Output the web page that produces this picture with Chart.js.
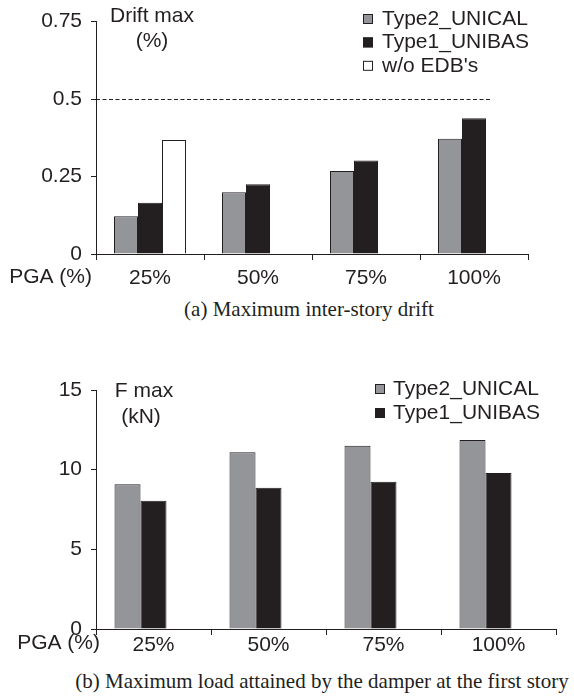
<!DOCTYPE html>
<html>
<head>
<meta charset="utf-8">
<script src="https://cdn.jsdelivr.net/npm/chart.js@4.4.1/dist/chart.umd.min.js"></script>
<style>
    html, body { margin: 0; padding: 0; background: #fff; }
    body { width: 574px; height: 696px; position: relative; overflow: hidden; }
    .panel { position: absolute; left: 0; width: 574px; }
    .caption {
        position: absolute; white-space: nowrap; transform: translateX(-50%);
        font-family: "Liberation Serif", "Times New Roman", serif; font-size: 21px;
        line-height: 24px; color: #231f20;
    }
</style>
</head>
<body>
<div class="panel" style="top:0;height:290px"><canvas id="driftChart"></canvas></div>
<div class="caption" style="left:309px;top:297px">(a) Maximum inter-story drift</div>
<div class="panel" style="top:360px;height:300px"><canvas id="forceChart"></canvas></div>
<div class="caption" style="left:322px;top:669px">(b) Maximum load attained by the damper at the first story</div>

<script>
// Données
const pgaLabels = ['25%', '50%', '75%', '100%'];

const driftUnical = [0.122, 0.199, 0.268, 0.372];
const driftUnibas = [0.165, 0.225, 0.302, 0.438];
const driftNoEdb = [0.368, null, null, null];
const driftTicks = [0, 0.25, 0.5, 0.75];

const forceUnical = [9.09, 11.09, 11.5, 11.86];
const forceUnibas = [8.05, 8.86, 9.24, 9.79];
const forceNoEdb = [null, null, null, null];
const forceTicks = [0, 5, 10, 15];

const INK = '#231f20';
const GREY = '#939598';
const FONT = '"Liberation Sans", Arial, sans-serif';
const FSIZE = 21;

// Plugin: titre d'axe, légende interne, ligne limite pointillée
const extrasPlugin = {
    id: 'extras',
    afterDraw(chart, args, opts) {
        const ctx = chart.ctx;
        const area = chart.chartArea;
        const y = chart.scales.y;
        ctx.save();
        ctx.fillStyle = INK;
        ctx.font = FSIZE + 'px ' + FONT;
        ctx.textBaseline = 'middle';

        // limite pointillée
        if (opts.limit != null) {
            const py = Math.round(y.getPixelForValue(opts.limit)) + 0.5;
            ctx.strokeStyle = INK;
            ctx.lineWidth = 1;
            ctx.setLineDash([4, 2.5]);
            ctx.beginPath();
            ctx.moveTo(area.left, py);
            ctx.lineTo(area.left + (area.right - area.left) * opts.limitSpan, py);
            ctx.stroke();
            ctx.setLineDash([]);
        }

        // titre de l'axe vertical
        ctx.textAlign = 'center';
        opts.yTitle.forEach((t, i) => ctx.fillText(t, opts.yTitleX[i], opts.yTitleY[i]));

        // titre de l'axe horizontal
        ctx.textAlign = 'right';
        ctx.fillText('PGA (%)', opts.xTitleRight, opts.xTitleY);

        // légende
        ctx.textAlign = 'left';
        let row = 0;
        chart.data.datasets.forEach(ds => {
            if (ds.hideInLegend) return;
            const cy = opts.legendY + row * opts.legendStep;
            ctx.fillStyle = ds.backgroundColor;
            ctx.fillRect(opts.legendBoxX, cy - 5, 10, 10);
            ctx.strokeStyle = INK;
            ctx.lineWidth = 1;
            ctx.strokeRect(opts.legendBoxX + 0.5, cy - 4.5, 9, 9);
            ctx.fillStyle = INK;
            ctx.fillText(ds.label, opts.legendTextX, cy);
            row++;
        });
        ctx.restore();
    }
};

function makeDatasets(unical, unibas, noEdb, hideThird) {
    const base = { borderColor: INK, borderWidth: 1 };
    return [
        { ...base, label: 'Type2_UNICAL', data: unical, backgroundColor: GREY },
        { ...base, label: 'Type1_UNIBAS', data: unibas, backgroundColor: INK },
        { ...base, label: "w/o EDB's", data: noEdb, backgroundColor: '#ffffff', hideInLegend: hideThird }
    ];
}

function makeChart(id, cfg) {
    return new Chart(document.getElementById(id), {
        type: 'bar',
        data: {
            labels: pgaLabels,
            datasets: makeDatasets(cfg.unical, cfg.unibas, cfg.noEdb, cfg.hideThird)
        },
        options: {
            responsive: true,
            maintainAspectRatio: false,
            animation: false,
            devicePixelRatio: 1,
            layout: { padding: { top: cfg.padTop, right: cfg.padRight, left: 0, bottom: 0 } },
            datasets: { bar: { categoryPercentage: cfg.catPct, barPercentage: 1 } },
            scales: {
                x: {
                    grid: { offset: true, drawOnChartArea: false, drawTicks: true, tickLength: 6, color: INK },
                    border: { color: INK, width: 1 },
                    ticks: { color: INK, font: { family: FONT, size: FSIZE }, padding: cfg.xPad, maxRotation: 0 },
                    afterFit: s => { s.height = cfg.xHeight; }
                },
                y: {
                    min: 0,
                    max: cfg.ticks[cfg.ticks.length - 1],
                    afterBuildTicks: s => { s.ticks = cfg.ticks.map(v => ({ value: v })); },
                    grid: { drawOnChartArea: false, drawTicks: true, tickLength: 5, color: INK },
                    border: { color: INK, width: 1 },
                    ticks: {
                        color: INK, font: { family: FONT, size: FSIZE }, padding: 9,
                        callback: v => String(v)
                    },
                    afterFit: s => { s.width = 96; }
                }
            },
            plugins: {
                legend: { display: false },
                tooltip: { enabled: false },
                extras: cfg.extras
            }
        },
        plugins: [extrasPlugin]
    });
}

makeChart('driftChart', {
    unical: driftUnical, unibas: driftUnibas, noEdb: driftNoEdb, hideThird: false,
    ticks: driftTicks, padTop: 16, padRight: 46, xHeight: 36, xPad: 6, catPct: 0.667,
    extras: {
        limit: 0.5, limitSpan: 0.913,
        yTitle: ['Drift max', '(%)'], yTitleX: [152, 152], yTitleY: [16, 41],
        xTitleRight: 92, xTitleY: 277,
        legendBoxX: 363, legendTextX: 382, legendY: 19, legendStep: 23.4
    }
});

makeChart('forceChart', {
    unical: forceUnical, unibas: forceUnibas, noEdb: forceNoEdb, hideThird: true,
    ticks: forceTicks, padTop: 30, padRight: 18, xHeight: 31, xPad: -2, catPct: 0.678,
    extras: {
        limit: null,
        yTitle: ['F max', '(kN)'], yTitleX: [144, 141], yTitleY: [31, 57],
        xTitleRight: 100, xTitleY: 283,
        legendBoxX: 375, legendTextX: 393, legendY: 29, legendStep: 24
    }
});
</script>
</body>
</html>
